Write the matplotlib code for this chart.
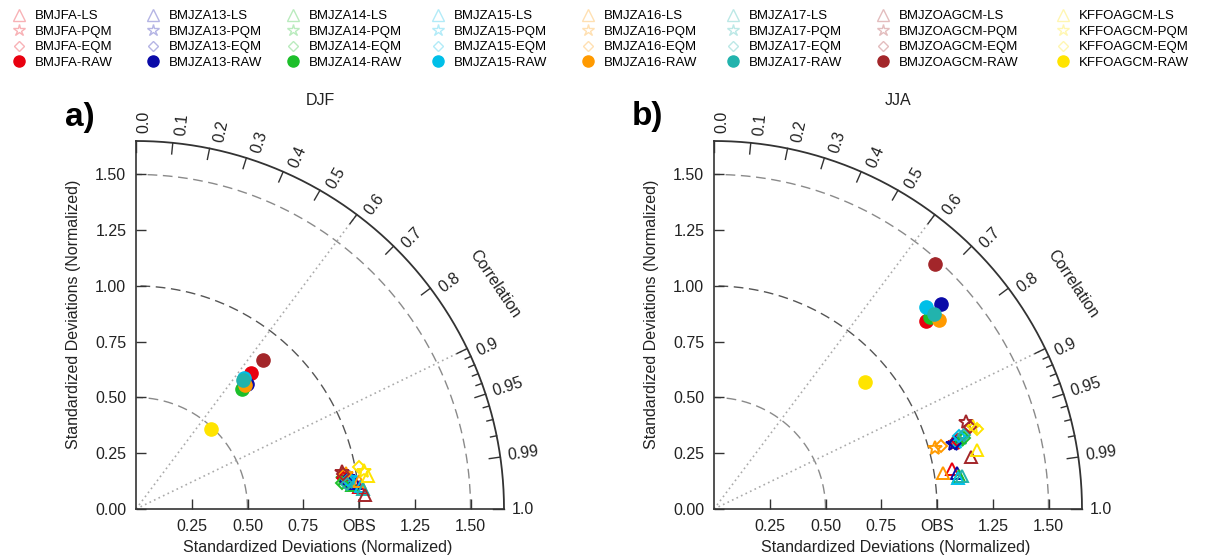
import numpy as np
import matplotlib.pyplot as plt
from matplotlib.lines import Line2D
from matplotlib.colors import to_rgba

plt.rcParams['font.family'] = ['Liberation Sans', 'DejaVu Sans']

models = ['BMJFA', 'BMJZA13', 'BMJZA14', 'BMJZA15', 'BMJZA16', 'BMJZA17',
          'BMJZOAGCM', 'KFFOAGCM']
colors = ['#e8000f', '#0a0aa8', '#1cbf2a', '#00bfe8', '#ff9a00', '#22b3ad',
          '#a3262a', '#ffe400']
methods = ['LS', 'PQM', 'EQM', 'RAW']
markers = {'LS': '^', 'PQM': '*', 'EQM': 'D', 'RAW': 'o'}

# DJF: normalized standard deviation and correlation per model
djf_raw_std = [0.80, 0.75, 0.72, 0.76, 0.74, 0.75, 0.88, 0.49]
djf_raw_cor = [0.644, 0.663, 0.663, 0.635, 0.659, 0.637, 0.648, 0.683]
djf_ls_std = [1.005, 0.987, 0.976, 1.015, 1.008, 1.024, 1.027, 1.050]
djf_ls_cor = [0.995, 0.993, 0.994, 0.995, 0.992, 0.996, 0.998, 0.990]
djf_pqm_std = [0.952, 0.960, 0.939, 0.970, 0.954, 0.958, 0.940, 1.035]
djf_pqm_cor = [0.988, 0.989, 0.990, 0.990, 0.986, 0.992, 0.984, 0.986]
djf_eqm_std = [0.940, 0.949, 0.933, 0.959, 0.947, 0.952, 0.943, 1.017]
djf_eqm_cor = [0.989, 0.991, 0.992, 0.991, 0.987, 0.993, 0.986, 0.983]

# JJA
jja_raw_std = [1.268, 1.369, 1.296, 1.314, 1.315, 1.318, 1.482, 0.883]
jja_raw_cor = [0.748, 0.742, 0.748, 0.725, 0.766, 0.747, 0.670, 0.766]
jja_ls_std = [1.081, 1.102, 1.110, 1.104, 1.038, 1.120, 1.177, 1.209]
jja_ls_cor = [0.986, 0.989, 0.991, 0.992, 0.988, 0.991, 0.980, 0.976]
jja_pqm_std = [1.121, 1.109, 1.143, 1.131, 1.026, 1.155, 1.195, 1.218]
jja_pqm_cor = [0.964, 0.965, 0.963, 0.964, 0.964, 0.961, 0.945, 0.953]
jja_eqm_std = [1.133, 1.121, 1.165, 1.148, 1.058, 1.168, 1.208, 1.234]
jja_eqm_cor = [0.962, 0.964, 0.962, 0.958, 0.964, 0.959, 0.952, 0.957]

std_ticks = [0, 0.25, 0.5, 0.75, 1.0, 1.25, 1.5]
x_ticklabels = ['0.25', '0.50', '0.75', 'OBS', '1.25', '1.50']
cor_major = [0.0, 0.1, 0.2, 0.3, 0.4, 0.5, 0.6, 0.7, 0.8, 0.9, 0.95, 0.99, 1.0]
cor_minor = [0.91, 0.92, 0.93, 0.94, 0.96, 0.97, 0.98]

RMAX = 1.65
DARK = '#333333'


def to_xy(std, cor):
    theta = np.arccos(np.asarray(cor))
    std = np.asarray(std)
    return std * np.cos(theta), std * np.sin(theta)


def draw_frame(ax, title):
    t = np.linspace(0, np.pi / 2, 300)
    for r, c in [(0.5, '#8a8a8a'), (1.0, '#555555'), (1.5, '#8a8a8a')]:
        ax.plot(r * np.cos(t), r * np.sin(t), color=c, ls=(0, (7, 4)), lw=1.0, zorder=1)
    ax.plot(RMAX * np.cos(t), RMAX * np.sin(t), color=DARK, lw=1.3, clip_on=False, zorder=2)
    for c in [0.6, 0.9]:
        a = np.arccos(c)
        ax.plot([0, RMAX * np.cos(a)], [0, RMAX * np.sin(a)], color='#aaaaaa',
                ls=(0, (1, 2)), lw=1.2, zorder=1)

    for c in cor_major + cor_minor:
        a = np.arccos(c)
        ln = 0.05 if c in cor_major else 0.028
        ax.plot([(RMAX - ln) * np.cos(a), RMAX * np.cos(a)],
                [(RMAX - ln) * np.sin(a), RMAX * np.sin(a)],
                color=DARK, lw=1.0, clip_on=False, zorder=2)
    for c in cor_major:
        a = np.arccos(c)
        r = RMAX + 0.035
        lab = '%.1f' % c if c not in (0.95, 0.99) else '%.2f' % c
        ax.text(r * np.cos(a), r * np.sin(a), lab, rotation=np.degrees(a),
                rotation_mode='anchor', ha='left',
                va='top' if c <= 0.9 else 'center', fontsize=11.5,
                color='#222222')
    a = np.radians(32)
    ax.text(1.9 * np.cos(a), 1.9 * np.sin(a), 'Correlation', rotation=-56,
            rotation_mode='anchor', ha='center', va='center', fontsize=11.5,
            color='#222222')

    ax.set_xlim(0, RMAX)
    ax.set_ylim(0, RMAX)
    for s in ['top', 'right']:
        ax.spines[s].set_visible(False)
    for s in ['left', 'bottom']:
        ax.spines[s].set_color(DARK)
        ax.spines[s].set_linewidth(1.2)
    ax.set_yticks(std_ticks)
    ax.set_yticklabels(['%.2f' % v for v in std_ticks])
    ax.set_xticks(std_ticks[1:])
    ax.set_xticklabels(x_ticklabels)
    ax.tick_params(direction='in', length=7, width=1.0, color=DARK,
                   labelsize=11.5, labelcolor='#222222', pad=7)
    ax.set_xlabel('Standardized Deviations (Normalized)', fontsize=11.5, color='#222222')
    ax.set_ylabel('Standardized Deviations (Normalized)', fontsize=11.5, color='#222222')
    ax.xaxis.set_label_coords(0.495, -0.085)
    ax.yaxis.set_label_coords(-0.15, 0.53)
    ax.text(0.5, 1.11, title, transform=ax.transAxes, ha='center', va='center',
            fontsize=11.5, color='#222222')


def draw_points(ax, series):
    for m in ['LS', 'PQM', 'EQM']:
        xs, ys = to_xy(*series[m])
        ms = 9 if m == 'LS' else (10 if m == 'PQM' else 6)
        for i in range(len(models)):
            ax.plot(xs[i], ys[i], marker=markers[m], ms=ms, mfc='none',
                    mec=colors[i], mew=1.4, ls='none', zorder=4, clip_on=False)
    xs, ys = to_xy(*series['RAW'])
    for i in range(len(models)):
        ax.plot(xs[i], ys[i], marker='o', ms=9.5, mfc=colors[i], mec=colors[i],
                ls='none', zorder=5)


fig = plt.figure(figsize=(12.16, 5.57), dpi=100)
ax_a = fig.add_axes([136 / 1216, 48 / 557, 368 / 1216, 368 / 557])
ax_b = fig.add_axes([714 / 1216, 48 / 557, 368 / 1216, 368 / 557])

draw_frame(ax_a, 'DJF')
draw_frame(ax_b, 'JJA')
draw_points(ax_a, {'RAW': (djf_raw_std, djf_raw_cor), 'LS': (djf_ls_std, djf_ls_cor),
                   'PQM': (djf_pqm_std, djf_pqm_cor), 'EQM': (djf_eqm_std, djf_eqm_cor)})
draw_points(ax_b, {'RAW': (jja_raw_std, jja_raw_cor), 'LS': (jja_ls_std, jja_ls_cor),
                   'PQM': (jja_pqm_std, jja_pqm_cor), 'EQM': (jja_eqm_std, jja_eqm_cor)})

fig.text(80 / 1216, 1 - 118 / 557, 'a)', fontsize=24, fontweight='bold',
         ha='center', va='center')
fig.text(647 / 1216, 1 - 117 / 557, 'b)', fontsize=24, fontweight='bold',
         ha='center', va='center')

# legend: one block of four entries per model
col_x = [12, 146, 286, 431, 581, 726, 876, 1056]
for i, name in enumerate(models):
    handles = []
    for m in methods:
        if m == 'RAW':
            h = Line2D([], [], marker='o', ls='none', ms=8, mfc=colors[i], mec=colors[i])
        else:
            faded = to_rgba(colors[i], 0.3)
            ms = 8 if m == 'LS' else (9 if m == 'PQM' else 5.5)
            h = Line2D([], [], marker=markers[m], ls='none', ms=ms, mfc='none',
                       mec=faded, mew=1.0)
        handles.append(h)
    fig.legend(handles, ['%s-%s' % (name, m) for m in methods],
               loc='upper left', bbox_to_anchor=(col_x[i] / 1216, 1 - 10 / 557),
               frameon=False, fontsize=9.5, handlelength=1.0, handletextpad=0.75,
               labelspacing=0.25, borderpad=0, borderaxespad=0)

fig.savefig('out.png', dpi=100)
